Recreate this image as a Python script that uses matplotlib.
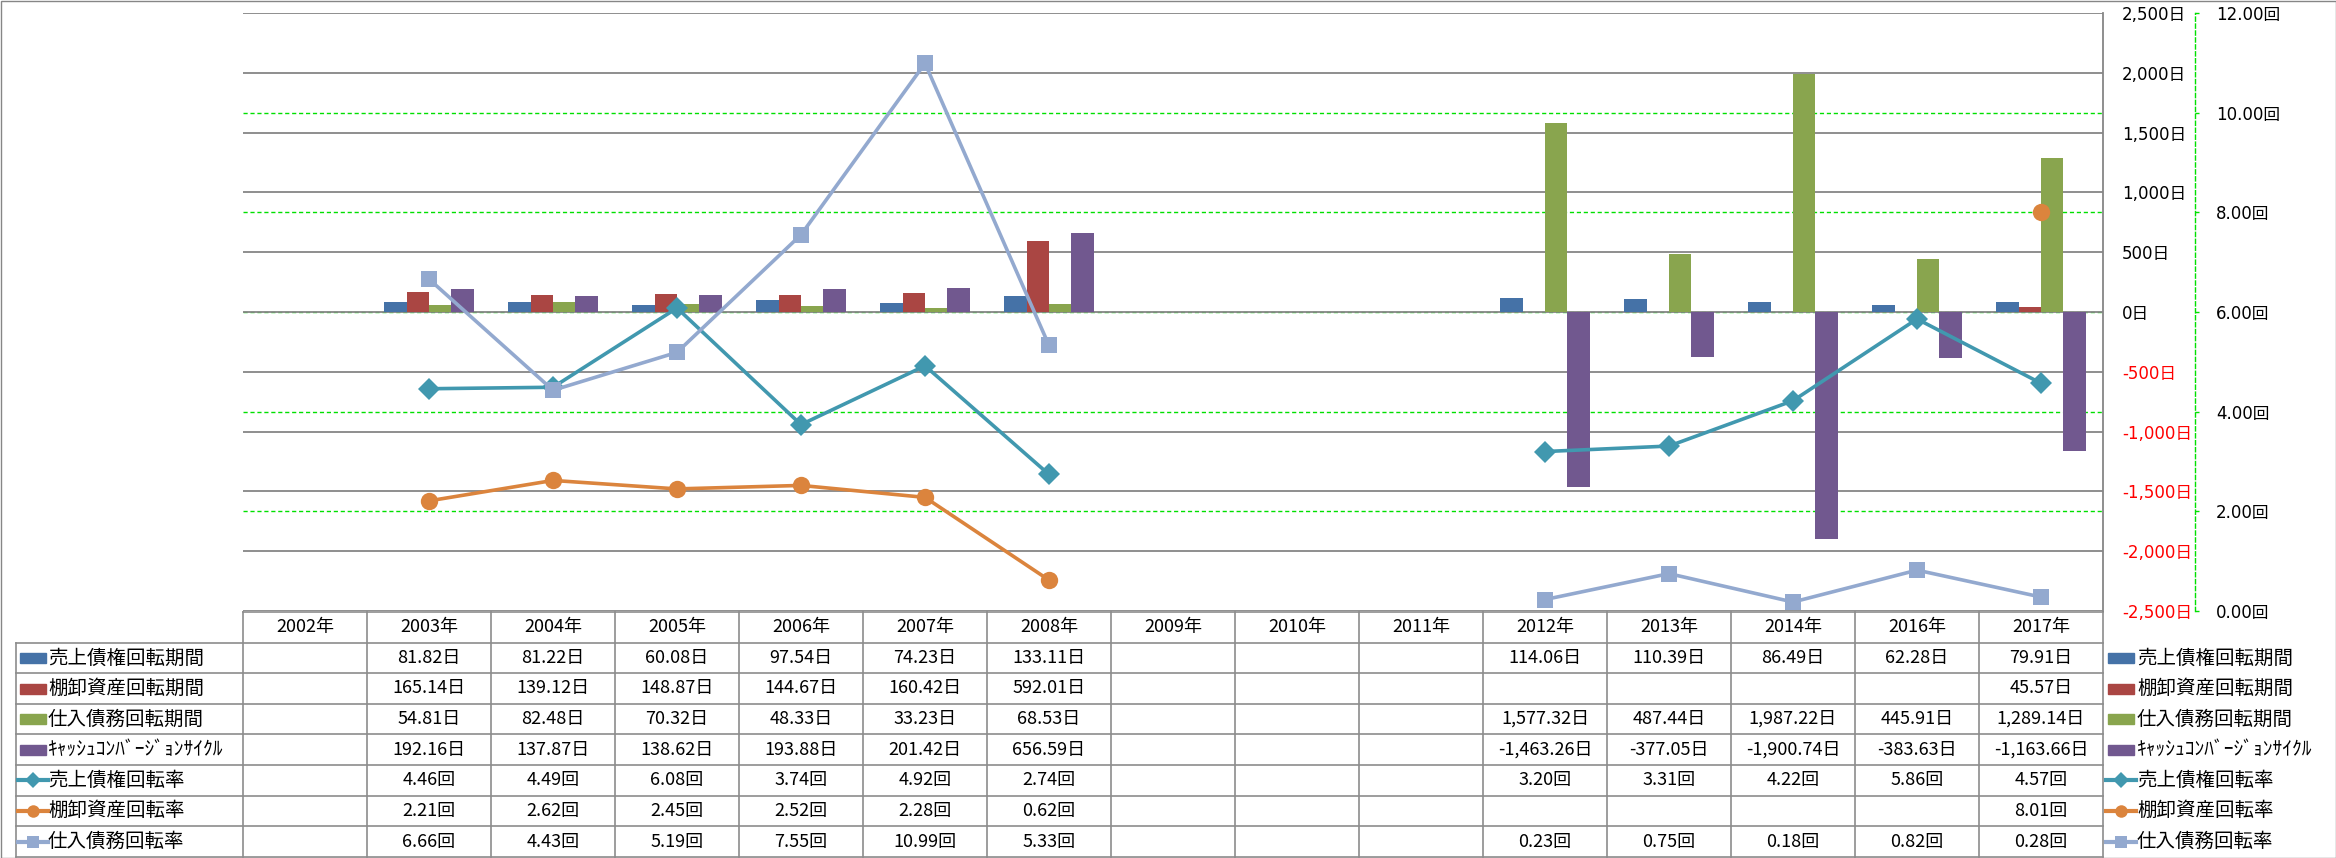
import numpy as np
import matplotlib.pyplot as plt
from matplotlib.patches import Rectangle
from matplotlib.transforms import blended_transform_factory

plt.rcParams['font.family'] = ['Noto Sans CJK JP', 'DejaVu Sans']

nan = np.nan
years = ['2002年', '2003年', '2004年', '2005年', '2006年', '2007年', '2008年',
         '2009年', '2010年', '2011年', '2012年', '2013年', '2014年', '2016年', '2017年']

# 回転期間 (days) -> bars, primary axis
ar_days = [nan, 81.82, 81.22, 60.08, 97.54, 74.23, 133.11, nan, nan, nan,
           114.06, 110.39, 86.49, 62.28, 79.91]
inv_days = [nan, 165.14, 139.12, 148.87, 144.67, 160.42, 592.01, nan, nan, nan,
            nan, nan, nan, nan, 45.57]
ap_days = [nan, 54.81, 82.48, 70.32, 48.33, 33.23, 68.53, nan, nan, nan,
           1577.32, 487.44, 1987.22, 445.91, 1289.14]
ccc_days = [nan, 192.16, 137.87, 138.62, 193.88, 201.42, 656.59, nan, nan, nan,
            -1463.26, -377.05, -1900.74, -383.63, -1163.66]

# 回転率 (times) -> lines, secondary axis
ar_turn = [nan, 4.46, 4.49, 6.08, 3.74, 4.92, 2.74, nan, nan, nan,
           3.20, 3.31, 4.22, 5.86, 4.57]
inv_turn = [nan, 2.21, 2.62, 2.45, 2.52, 2.28, 0.62, nan, nan, nan,
            nan, nan, nan, nan, 8.01]
ap_turn = [nan, 6.66, 4.43, 5.19, 7.55, 10.99, 5.33, nan, nan, nan,
           0.23, 0.75, 0.18, 0.82, 0.28]

bar_series = [
    ('売上債権回転期間', ar_days, '#4572A7'),
    ('棚卸資産回転期間', inv_days, '#AA4643'),
    ('仕入債務回転期間', ap_days, '#89A54E'),
    ('ｷｬｯｼｭｺﾝﾊﾞｰｼﾞｮﾝｻｲｸﾙ', ccc_days, '#71588F'),
]
line_series = [
    ('売上債権回転率', ar_turn, '#4198AF', 'D', 11.5),
    ('棚卸資産回転率', inv_turn, '#DB843D', 'o', 12.5),
    ('仕入債務回転率', ap_turn, '#93A9CF', 's', 11.5),
]

W, H = 2336, 858
PL, PR, PT, PB = 243, 2103, 13, 611
GRID = '#868686'
GREEN = '#00E000'
AXFONT = ['DejaVu Sans', 'Noto Sans CJK JP']

fig = plt.figure(figsize=(W / 100, H / 100), dpi=100)

# overlay in pixel coords for the data table, legend and border
tab = fig.add_axes([0, 0, 1, 1])
tab.set_xlim(0, W)
tab.set_ylim(H, 0)
tab.axis('off')

ax = fig.add_axes([PL / W, 1 - PB / H, (PR - PL) / W, (PB - PT) / H])
ax2 = ax.twinx()

x = np.arange(len(years))
bw = 0.18
for k, (lab, vals, col) in enumerate(bar_series):
    ax.bar(x + (k - 1.5) * bw, vals, width=bw, color=col, zorder=2)

for lab, vals, col, mk, ms in line_series:
    ax2.plot(x, vals, color=col, lw=2.6, marker=mk, ms=ms, mec=col, mew=0,
             solid_capstyle='round')

ax.set_xlim(-0.5, len(years) - 0.5)
ax.set_ylim(-2500, 2500)
ax2.set_ylim(0, 12)

prim_ticks = np.arange(-2500, 2501, 500)
sec_ticks = np.arange(0, 12.01, 2)

ax.yaxis.tick_right()
ax.tick_params(axis='y', length=0, pad=13.7, labelsize=12, labelfontfamily=AXFONT)
ax.set_yticks(prim_ticks)
ax.set_yticklabels([f'{v:,}日' for v in prim_ticks])
for t, v in zip(ax.yaxis.get_major_ticks(), prim_ticks):
    t.label2.set_color('#FF0000' if v < 0 else 'black')
ax.set_xticks([])
ax.grid(axis='y', color=GRID, lw=1.3, zorder=0)
for s in ['left', 'top', 'bottom']:
    ax.spines[s].set_visible(False)
ax.spines['right'].set_color(GRID)
ax.spines['right'].set_linewidth(1.3)

# secondary gridlines (green dashed), kept behind the bars
bt = blended_transform_factory(ax.transAxes, ax2.transData)
for s in sec_ticks[1:-1]:
    ax.plot([0, 1], [s, s], transform=bt, color=GREEN, lw=1.0,
            ls=(0, (3, 2)), zorder=1)

ax2.tick_params(axis='y', direction='out', length=3, width=1, color=GREEN,
                pad=12.2, labelsize=12, labelfontfamily=AXFONT)
ax2.set_yticks(sec_ticks)
ax2.set_yticklabels([f'{v:.2f}回' for v in sec_ticks])
for s in ['left', 'top', 'bottom']:
    ax2.spines[s].set_visible(False)
ax2.spines['right'].set_position(('outward', 66.2))
ax2.spines['right'].set_color(GREEN)
ax2.spines['right'].set_linestyle((0, (3, 2)))
ax2.spines['right'].set_linewidth(1.0)

# ---- data table ----
HT = 612
RH = 30.6
n_rows = len(bar_series) + len(line_series)
bottom = HT + RH * (n_rows + 1)
edges = [ax.transData.transform((i - 0.5, 0))[0] for i in range(len(years) + 1)]
centers = [ax.transData.transform((i, 0))[0] for i in range(len(years))]
LC = '#8C8C8C'

tab.plot([edges[0], edges[-1]], [HT, HT], color=LC, lw=1.2)
for r in range(1, n_rows + 2):
    y = HT + RH * r
    tab.plot([16, edges[-1]], [y, y], color=LC, lw=1.2)
for e in edges:
    tab.plot([e, e], [HT, bottom], color=LC, lw=1.2)
tab.plot([16, 16], [HT + RH, bottom], color=LC, lw=1.2)

for c, yr in zip(centers, years):
    tab.text(c, HT + RH / 2, yr, ha='center', va='center', fontsize=13)


def draw_key(x0, yc, kind, col, mk=None, ms=None):
    if kind == 'bar':
        tab.add_patch(Rectangle((x0 + 2, yc - 5), 26, 10, color=col))
    else:
        tab.plot([x0, x0 + 30], [yc, yc], color=col, lw=3)
        tab.plot([x0 + 15], [yc], marker=mk, ms=ms * 0.72, color=col, mew=0)


rows = [('bar', lab, vals, col, None, None, '日') for lab, vals, col in bar_series]
rows += [('line', lab, vals, col, mk, ms, '回') for lab, vals, col, mk, ms in line_series]

for r, (kind, lab, vals, col, mk, ms, unit) in enumerate(rows):
    yc = HT + RH * (r + 1.5)
    draw_key(18, yc, kind, col, mk, ms)
    tab.text(48, yc, lab, ha='left', va='center', fontsize=14)
    draw_key(2106, yc, kind, col, mk, ms)
    tab.text(2137, yc, lab, ha='left', va='center', fontsize=14)
    for c, v in zip(centers, vals):
        if not np.isnan(v):
            tab.text(c, yc, f'{v:,.2f}{unit}', ha='center', va='center', fontsize=13)

# chart border
tab.add_patch(Rectangle((0.5, 0.5), W - 1, H - 1, fill=False, ec=GRID, lw=1))

fig.savefig('out.png', dpi=100)
